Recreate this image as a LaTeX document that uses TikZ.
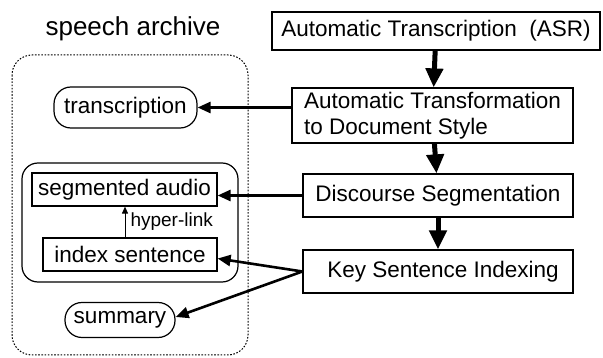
\documentclass[tikz,border=0pt]{standalone}
\usepackage{fontspec}
\setmainfont{Liberation Sans}
\usetikzlibrary{arrows.meta}

\begin{document}
\begin{tikzpicture}[x=1pt,y=-1pt,line width=1.2pt,
        every node/.style={font=\fontsize{22.5}{26}\selectfont,inner sep=0pt},
        stepbox/.style={draw,rectangle},%process boxes on the right
        datapill/.style={draw,rectangle,rounded corners=17pt},%archive items
        flow/.style={line width=5pt,-{Triangle[width=17pt,length=19pt]}},
        store/.style={line width=2.6pt,-{Triangle[width=11pt,length=13pt]}},
        link/.style={line width=1pt,-{Triangle[width=6pt,length=7pt]}}
                ]
\useasboundingbox (0,0) rectangle (603,358);
% processing chain
\node[stepbox,minimum width=328pt,minimum height=38pt] (asr) at (436,31) {Automatic Transcription~ (ASR)};
\node[stepbox,minimum width=281pt,minimum height=55pt,align=left] (trans) at (432.5,115.5) {Automatic Transformation\\to Document Style};
\node[stepbox,minimum width=270pt,minimum height=43pt] (disc) at (438,195.5) {Discourse Segmentation};
\node[stepbox,minimum width=270pt,minimum height=43pt] (key) at (438,271.5) {\hspace{10pt}Key Sentence Indexing};
\draw[flow] (asr) -- (trans);
\draw[flow] (trans) -- (disc);
\draw[flow] (disc) -- (key);
% speech archive
\node[font=\fontsize{26}{30}\selectfont] (title) at (133,29) {speech archive};
\draw[line width=1pt,dash pattern=on 1.6pt off 1.6pt,rounded corners=20pt] (12,55) rectangle (248,355);
\draw[rounded corners=16pt] (22,163) rectangle (238,282);
\node[datapill,minimum width=143pt,minimum height=41pt] (transcr) at (125.5,107.5) {transcription};
\node[stepbox,minimum width=185pt,minimum height=33pt] (seg) at (124.5,189.5) {segmented audio};
\node[stepbox,minimum width=174pt,minimum height=33pt] (idx) at (130,254.5) {index sentence};
\node[datapill,minimum width=110pt,minimum height=35pt] (summ) at (120,320) {summary};
\draw[link] (idx.north -| 125,0) -- (seg.south -| 125,0) node[midway,right=5pt,font=\fontsize{19}{22}\selectfont] (hl) {hyper-link};
\draw[store] (trans.west |- transcr.east) -- (transcr.east);
\draw[store] (disc.west) -- (seg.east |- disc.west);
\draw[store] (key.west) -- ([yshift=-4pt]idx.east);
\draw[store] (key.west) -- ([yshift=3pt]summ.east);
\end{tikzpicture}
\end{document}
